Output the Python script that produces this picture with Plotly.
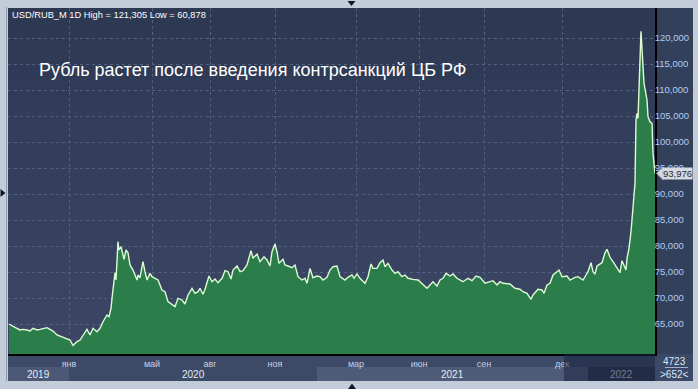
import plotly.graph_objects as go

# ---------------- data ----------------
# x = trading-day index since the start of the visible window
trading_day = [0, 3, 6, 11, 14, 18, 21, 24, 28, 31, 38, 41, 44, 48, 53, 58, 61, 64, 68, 71,
               74, 78, 81, 84, 88, 91, 94, 98, 100, 102, 103, 104, 106, 107, 108, 109, 110, 112, 114, 115,
               117, 119, 121, 124, 128, 129, 131, 134, 136, 138, 141, 143, 146, 149, 153, 156, 159, 163, 166, 169,
               173, 176, 179, 183, 186, 189, 191, 194, 196, 200, 203, 206, 209, 213, 216, 219, 222, 224, 228, 231,
               234, 238, 242, 244, 248, 251, 255, 258, 261, 263, 266, 268, 270, 274, 276, 279, 283, 286, 289, 293,
               296, 298, 301, 304, 308, 311, 314, 318, 321, 324, 328, 331, 336, 339, 343, 345, 348, 351, 356, 359,
               362, 364, 368, 371, 374, 376, 379, 383, 386, 389, 393, 396, 399, 404, 409, 411, 418, 421, 424, 428,
               431, 434, 437, 441, 444, 448, 451, 454, 459, 463, 467, 471, 476, 481, 484, 488, 491, 494, 501, 506,
               511, 514, 518, 522, 524, 529, 533, 535, 538, 541, 544, 548, 550, 553, 558, 561, 566, 569, 574, 577,
               579, 582, 584, 586, 588, 593, 596, 598, 601, 604, 608, 611, 613, 615, 617, 618, 620, 622, 623, 624,
               625, 626, 627, 628, 629, 630, 631, 632, 633, 634, 635, 638, 639, 641, 643, 644, 645, 646]
usd_rub = [65000, 64620, 64360, 63850, 63970, 63850, 63650, 64170, 63850, 63970, 64300, 63970, 63650, 62880, 62560, 62180, 61920, 60878, 61600, 61920,
           62880, 63970, 62880, 64170, 63520, 64170, 65440, 66730, 66400, 68020, 69940, 72060, 74870, 73460, 78270, 80830, 79230, 79870, 78270, 77440,
           79230, 78710, 76350, 75380, 73460, 74420, 73900, 76980, 75060, 73460, 74740, 74100, 73790, 73460, 71540, 71210, 69290, 68650, 68330, 69940,
           69620, 68850, 70580, 71870, 70900, 71210, 71870, 70710, 71680, 74230, 73130, 73650, 72940, 73790, 75270, 75060, 73650, 75380, 76150, 75060,
           75270, 76350, 79100, 77630, 78460, 76980, 77940, 77310, 76150, 78900, 80380, 78900, 76670, 77440, 76350, 76150, 75830, 76350, 74100, 73460,
           73790, 72830, 75700, 73900, 74230, 74100, 73460, 73970, 75380, 76020, 76150, 74100, 73460, 73970, 74420, 73790, 74620, 73790, 72830, 74100,
           76540, 75700, 75700, 76790, 77310, 76020, 76670, 75380, 74740, 75060, 74100, 74420, 73790, 73590, 73460, 73130, 71870, 72500, 73130, 72310,
           73460, 73790, 74740, 74230, 74620, 73790, 73460, 73130, 73790, 73330, 74230, 73970, 72830, 73130, 73330, 72500, 73130, 72830, 72690, 71870,
           71680, 71210, 70900, 69750, 70580, 71680, 71540, 70900, 72500, 72830, 74420, 75060, 75380, 74100, 74230, 73460, 73970, 74100, 73460, 74420,
           75060, 76790, 75060, 74620, 76150, 76790, 78710, 79360, 77830, 76980, 75830, 74870, 77180, 76350, 75380, 77630, 79560, 82750, 85000, 86920,
           90770, 92060, 104230, 105510, 104550, 108780, 115770, 121305, 118010, 114480, 111290, 108080, 104870, 103900, 103590, 97820, 95250, 93976]

month_ticks = [60, 143, 201, 266, 347, 410, 475, 553]
month_labels = ["янв", "май", "авг", "ноя", "мар", "июн", "сен", "дек"]
year_starts = [-1, 60, 308, 579]
year_ends = [60, 308, 579, 646]
year_labels = ["2019", "2020", "2021", "2022"]
y_ticks = [65000, 70000, 75000, 80000, 85000, 90000, 95000, 100000, 105000, 110000, 115000, 120000]
high_value = 121305
low_value = 60878
symbol = "USD/RUB_M 1D"
title_text = "Рубль растет после введения контрсанкций ЦБ РФ"
bars_total = "4723"
bars_visible = ">652<"

# ---------------- layout helpers (style only) ----------------
W, H = 698, 389
ML, MR, MT, MB = 8, 43, 8, 35
PW, PH = W - ML - MR, H - MT - MB
X_RANGE = [-1, 646]
Y_RANGE = [59230, 125770]
FONT = "Liberation Sans"


def px(xp):
    return (xp - ML) / PW


def py(yp):
    return (H - MB - yp) / PH


def mix(c1, c2, t):
    a = [int(c1[i:i + 2], 16) for i in (1, 3, 5)]
    b = [int(c2[i:i + 2], 16) for i in (1, 3, 5)]
    return "#" + "".join(f"{round(a[k] + (b[k] - a[k]) * t):02x}" for k in range(3))


fig = go.Figure()
fig.add_trace(go.Scatter(
    x=trading_day, y=usd_rub, mode="lines",
    line=dict(color="#dcfbd2", width=1.4),
    fill="tozeroy", fillcolor="#2b7d4a",
    hoverinfo="skip", showlegend=False,
))

shapes = []
# plot background gradient
N = 20
for i in range(N):
    shapes.append(dict(type="rect", xref="paper", yref="paper", x0=0, x1=1,
                       y0=i / N, y1=(i + 1) / N, layer="below", line=dict(width=0),
                       fillcolor=mix("#3b4765", "#2d3853", (i + 0.5) / N)))
# right axis panel
shapes.append(dict(type="rect", xref="paper", yref="paper", x0=1, x1=px(693), y0=0, y1=1,
                   fillcolor="#33405c", line=dict(width=0), layer="below"))
# month row
shapes.append(dict(type="rect", xref="paper", yref="paper", x0=0, x1=1, y0=py(367), y1=0,
                   fillcolor="#3d4a67", line=dict(width=0), layer="below"))
# year bands
year_colors = ["#4b5977", "#3d4a67", "#4d5b78", "#2b3550"]
for xs, xe, c in zip(year_starts, year_ends, year_colors):
    shapes.append(dict(type="rect", xref="x", yref="paper", x0=xs, x1=xe, y0=py(381), y1=py(367),
                       fillcolor=c, line=dict(width=0), layer="below"))
# navigator overlay (current view)
shapes.append(dict(type="rect", xref="x", yref="paper", x0=555, x1=646, y0=py(381), y1=0,
                   fillcolor="#1c2540", opacity=0.55, line=dict(width=0), layer="above"))
# bottom-right info box
shapes.append(dict(type="rect", xref="paper", yref="paper", x0=1, x1=px(693), y0=py(381), y1=0,
                   fillcolor="#3b4967", line=dict(width=0), layer="below"))
shapes.append(dict(type="line", xref="paper", yref="paper", x0=px(665), x1=px(688), y0=py(367.5), y1=py(367.5),
                   line=dict(color="#9fb0cc", width=1)))
# outer frame line on left
shapes.append(dict(type="line", xref="paper", yref="paper", x0=px(6.5), x1=px(6.5), y0=py(381), y1=py(7),
                   line=dict(color="#8d98a8", width=1)))
# splitter triangles
shapes.append(dict(type="path", xref="paper", yref="paper",
                   path=f"M {px(347.5)},{py(1)} L {px(355.5)},{py(1)} L {px(351.5)},{py(6)} Z",
                   fillcolor="#101826", line=dict(width=0)))
shapes.append(dict(type="path", xref="paper", yref="paper",
                   path=f"M {px(348)},{py(389)} L {px(356)},{py(389)} L {px(352)},{py(383.5)} Z",
                   fillcolor="#101826", line=dict(width=0)))
shapes.append(dict(type="path", xref="paper", yref="paper",
                   path=f"M {px(0.5)},{py(189)} L {px(0.5)},{py(197)} L {px(5.5)},{py(193)} Z",
                   fillcolor="#101826", line=dict(width=0)))
# last price pointer
last_y = (usd_rub[-1] - Y_RANGE[0]) / (Y_RANGE[1] - Y_RANGE[0])
dy = 6.5 / PH
shapes.append(dict(type="path", xref="paper", yref="paper",
                   path=f"M {px(656.5)},{last_y} L {px(663)},{last_y + dy} L {px(663)},{last_y - dy} Z",
                   fillcolor="#d5d9e0", line=dict(color="#8c96a6", width=1)))

annotations = [
    dict(xref="paper", yref="paper", x=px(10), y=py(14.5), xanchor="left", yanchor="middle",
         text=f"{symbol} High = {high_value:,} Low = {low_value:,}", showarrow=False,
         font=dict(family=FONT, size=9.3, color="#ffffff")),
    dict(xref="paper", yref="paper", x=px(37), y=py(70), xanchor="left", yanchor="middle",
         text=title_text, showarrow=False, font=dict(family=FONT, size=18, color="#ffffff")),
    dict(xref="paper", yref="paper", x=px(674), y=py(361), xanchor="center", yanchor="middle",
         text=bars_total, showarrow=False, font=dict(family=FONT, size=10, color="#dce6f8")),
    dict(xref="paper", yref="paper", x=px(674), y=py(374), xanchor="center", yanchor="middle",
         text=bars_visible, showarrow=False, font=dict(family=FONT, size=10, color="#dce6f8")),
    dict(xref="paper", yref="y", x=px(662), y=usd_rub[-1], xanchor="left", yanchor="middle",
         text=f"{usd_rub[-1]:,}", showarrow=False, bgcolor="#d5d9e0", borderpad=0,
         font=dict(family=FONT, size=9.5, color="#1e2b40")),
]
for xs, xe, lab in zip(year_starts, year_ends, year_labels):
    annotations.append(dict(xref="x", yref="paper", x=(xs + xe) / 2, y=py(374), xanchor="center",
                            yanchor="middle", text=lab, showarrow=False,
                            font=dict(family=FONT, size=10,
                                      color="#6f7c95" if lab == year_labels[-1] else "#e6ecf6")))

fig.update_layout(
    width=W, height=H,
    margin=dict(l=ML, r=MR, t=MT, b=MB, pad=0),
    paper_bgcolor="#c3cdda", plot_bgcolor="#343f5b",
    showlegend=False,
    shapes=shapes, annotations=annotations,
    xaxis=dict(range=X_RANGE, tickvals=month_ticks, ticktext=month_labels,
               showgrid=True, gridcolor="#52617f", griddash="3px,3px", gridwidth=1,
               zeroline=False, showline=True, linecolor="#000000", linewidth=1.5,
               ticks="", tickfont=dict(family=FONT, size=9, color="#c6d0e2"), fixedrange=True),
    yaxis=dict(range=Y_RANGE, side="right", tickvals=y_ticks, tickformat=",d",
               showgrid=True, gridcolor="#52617f", griddash="3px,3px", gridwidth=1,
               zeroline=False, showline=True, linecolor="#000000", linewidth=1.5,
               ticks="", ticklabelstandoff=-4,
               tickfont=dict(family=FONT, size=9.5, color="#b0ccf4"), fixedrange=True),
)

fig.write_html("out.html", config={"displayModeBar": False},
               post_script="document.body.style.margin='0';document.body.style.overflow='hidden';")
